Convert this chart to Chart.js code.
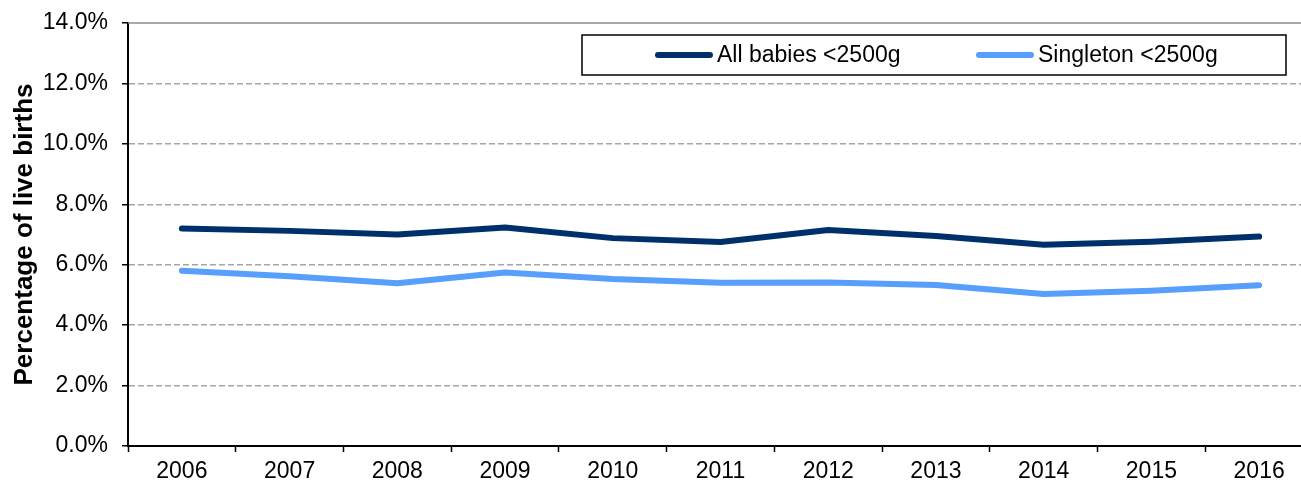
<!DOCTYPE html>
<html>
<head>
<meta charset="utf-8">
<script src="https://cdn.jsdelivr.net/npm/chart.js@4/dist/chart.umd.min.js"></script>
<style>
    html, body { margin: 0; padding: 0; background: #fff; overflow: hidden; }
    canvas { display: block; }
</style>
</head>
<body>
<canvas id="lbwChart" width="1320" height="490"></canvas>
<script>
const years = ['2006', '2007', '2008', '2009', '2010', '2011', '2012', '2013', '2014', '2015', '2016'];
const allBabies = [7.20, 7.12, 7.00, 7.23, 6.88, 6.75, 7.15, 6.95, 6.66, 6.76, 6.93];
const singleton = [5.80, 5.62, 5.39, 5.74, 5.53, 5.40, 5.41, 5.33, 5.03, 5.14, 5.32];
const seriesNames = ['All babies <2500g', 'Singleton <2500g'];
const yTicks = [0, 2, 4, 6, 8, 10, 12, 14];

const FONT = "'Liberation Sans', Arial, sans-serif";
const navy = '#00306b';
const sky = '#579ffa';

// legend drawn as a boxed strip inside the plot, like the original
const boxLegend = {
    id: 'boxLegend',
    afterDraw(chart) {
        const { ctx, chartArea } = chart;
        const x = chartArea.left + 454;
        const y = chartArea.top + 12;
        const w = 704;
        const h = 40;
        ctx.save();
        ctx.fillStyle = '#fff';
        ctx.fillRect(x, y, w, h);
        ctx.strokeStyle = '#000';
        ctx.lineWidth = 1.5;
        ctx.strokeRect(x, y, w, h);
        ctx.font = `23px ${FONT}`;
        ctx.textBaseline = 'middle';
        ctx.lineCap = 'round';
        const starts = [x + 76, x + 397];
        chart.data.datasets.forEach((ds, i) => {
            const sx = starts[i];
            ctx.strokeStyle = ds.borderColor;
            ctx.lineWidth = 6;
            ctx.beginPath();
            ctx.moveTo(sx, y + h / 2);
            ctx.lineTo(sx + 52, y + h / 2);
            ctx.stroke();
            ctx.fillStyle = '#000';
            ctx.fillText(ds.label, sx + 59, y + h / 2 + 1);
        });
        ctx.restore();
    },
    beforeDatasetsDraw(chart) {
        // solid top edge of plot area
        const { ctx, chartArea } = chart;
        ctx.save();
        ctx.strokeStyle = '#8c8c8c';
        ctx.lineWidth = 1.5;
        ctx.beginPath();
        ctx.moveTo(chartArea.left, chartArea.top);
        ctx.lineTo(chartArea.right, chartArea.top);
        ctx.stroke();
        ctx.restore();
    },
};

new Chart(document.getElementById('lbwChart'), {
    type: 'line',
    data: {
        labels: years,
        datasets: [
            { label: seriesNames[0], data: allBabies, borderColor: navy, backgroundColor: navy, borderWidth: 6, pointRadius: 0, tension: 0, borderCapStyle: 'round', borderJoinStyle: 'round' },
            { label: seriesNames[1], data: singleton, borderColor: sky, backgroundColor: sky, borderWidth: 6, pointRadius: 0, tension: 0, borderCapStyle: 'round', borderJoinStyle: 'round' },
        ],
    },
    options: {
        responsive: false,
        animation: false,
        layout: { padding: { top: 23, right: 7, bottom: 0, left: 0 } },
        plugins: { legend: { display: false }, tooltip: { enabled: false } },
        scales: {
            x: {
                offset: true,
                grid: { offset: true, drawOnChartArea: false, tickLength: 6, tickColor: '#000', tickWidth: 1.5 },
                border: { color: '#000', width: 2 },
                ticks: { color: '#000', font: { family: FONT, size: 23 }, padding: 6, maxRotation: 0 },
                afterFit(scale) { scale.height = 44; },
            },
            y: {
                min: 0,
                max: 14,
                afterBuildTicks(scale) { scale.ticks = yTicks.map((v) => ({ value: v })); },
                grid: {
                    color: (c) => (c.tick && c.tick.value === 14 ? 'rgba(0,0,0,0)' : '#a6a6a6'),
                    lineWidth: 1.5,
                    tickLength: 6,
                    tickColor: '#000',
                    tickWidth: 1.5,
                },
                border: { color: '#000', width: 2, dash: [6, 3] },
                ticks: { color: '#000', font: { family: FONT, size: 23 }, padding: 14, callback: (v) => v.toFixed(1) + '%' },
                title: { display: true, text: 'Percentage of live births', color: '#000', font: { family: FONT, size: 26, weight: 'bold' }, padding: { top: 9, bottom: 0 } },
                afterFit(scale) {
                    scale.width = 128;
                    scale.paddingTop = 0;
                    scale.paddingBottom = 0;
                },
            },
        },
    },
    plugins: [boxLegend],
});
</script>
</body>
</html>
